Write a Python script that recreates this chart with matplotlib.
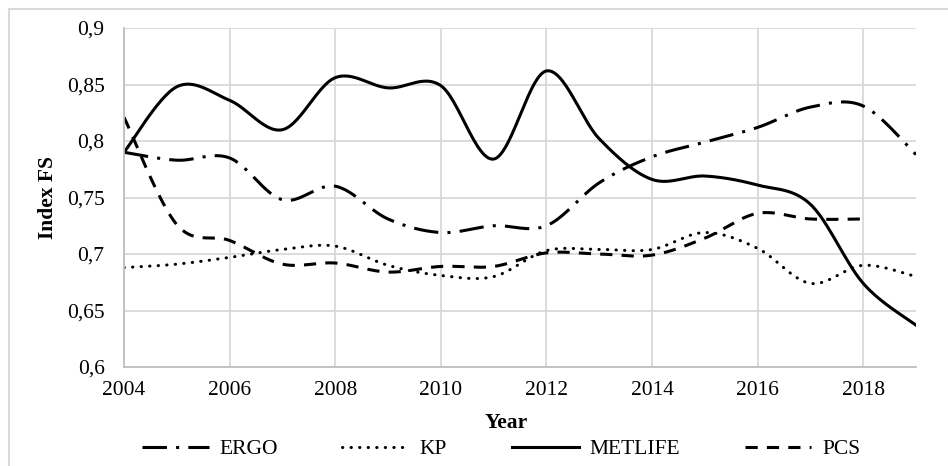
import numpy as np
import matplotlib
matplotlib.use("Agg")
import matplotlib.pyplot as plt
from matplotlib.lines import Line2D

plt.rcParams['font.family'] = ['Liberation Serif', 'DejaVu Serif']

years = list(range(2004, 2020))
ergo = [0.790, 0.783, 0.785, 0.748, 0.760, 0.731, 0.719, 0.725, 0.725, 0.763, 0.786, 0.799, 0.812, 0.830, 0.831, 0.788]
kp = [0.688, 0.691, 0.697, 0.704, 0.707, 0.690, 0.681, 0.680, 0.703, 0.704, 0.704, 0.719, 0.705, 0.674, 0.690, 0.680]
metlife = [0.790, 0.848, 0.836, 0.810, 0.856, 0.847, 0.849, 0.784, 0.862, 0.802, 0.766, 0.769, 0.761, 0.744, 0.674, 0.637]
pcs_years = list(range(2004, 2019))
pcs = [0.821, 0.726, 0.712, 0.691, 0.692, 0.684, 0.689, 0.689, 0.701, 0.700, 0.699, 0.714, 0.736, 0.731, 0.731]

yticks = [0.6, 0.65, 0.7, 0.75, 0.8, 0.85, 0.9]
ytick_labels = ["0,6", "0,65", "0,7", "0,75", "0,8", "0,85", "0,9"]
xticks = [2004, 2006, 2008, 2010, 2012, 2014, 2016, 2018]

FS = 15.5


def smooth(x, y, n=30):
    """Excel-style smoothed line (Catmull-Rom Bezier through the points)."""
    x = np.asarray(x, float)
    y = np.asarray(y, float)
    P = np.column_stack([x, y])
    out = []
    for i in range(len(P) - 1):
        p0 = P[i - 1] if i > 0 else P[i]
        p1 = P[i]
        p2 = P[i + 1]
        p3 = P[i + 2] if i + 2 < len(P) else P[i + 1]
        c1 = p1 + (p2 - p0) / 6.0
        c2 = p2 - (p3 - p1) / 6.0
        t = np.linspace(0, 1, n)[:, None]
        seg = ((1 - t) ** 3) * p1 + 3 * ((1 - t) ** 2) * t * c1 + 3 * (1 - t) * t ** 2 * c2 + t ** 3 * p2
        if i > 0:
            seg = seg[1:]
        out.append(seg)
    out = np.vstack(out)
    return out[:, 0], out[:, 1]


fig = plt.figure(figsize=(9.48, 4.66), dpi=100)
ax = fig.add_axes([124 / 948, 1 - 367 / 466, 792 / 948, 339 / 466])

lw = 2.2
sx, sy = smooth(years, ergo)
ax.plot(sx, sy, color='black', lw=lw, linestyle=(0, (8, 3, 1, 3)), label='ERGO')
sx, sy = smooth(years, kp)
ax.plot(sx, sy, color='black', lw=lw, linestyle=(0, (0.1, 2.7)), dash_capstyle='round', label='KP')
sx, sy = smooth(years, metlife)
ax.plot(sx, sy, color='black', lw=lw, linestyle='-', label='METLIFE')
sx, sy = smooth(pcs_years, pcs)
ax.plot(sx, sy, color='black', lw=lw, linestyle=(0, (4, 3)), label='PCS')

ax.set_xlim(2004, 2019)
ax.set_ylim(0.6, 0.9)
ax.set_xticks(xticks)
ax.set_yticks(yticks)
ax.set_yticklabels(ytick_labels)
ax.tick_params(axis='both', length=0, labelsize=FS, colors='black')
ax.tick_params(axis='x', pad=10)
ax.tick_params(axis='y', pad=14)
ax.grid(True, color='#d9d9d9', lw=1.3)
ax.set_axisbelow(True)
for s in ['top', 'right']:
    ax.spines[s].set_visible(False)
for s in ['left', 'bottom']:
    ax.spines[s].set_color('#bfbfbf')
    ax.spines[s].set_linewidth(1.3)

ax.set_ylabel('Index FS', fontsize=FS, fontweight='bold')
ax.yaxis.set_label_coords((58 - 124) / 792, 0.5)
fig.text(506 / 948, 1 - 423 / 466, 'Year', fontsize=FS, fontweight='bold', ha='center', va='center')

fig.legend(loc='center', bbox_to_anchor=(501 / 948, 1 - 449 / 466), ncol=4, frameon=False,
           fontsize=FS, handlelength=3.1, columnspacing=3.0, handletextpad=0.5)

# outer chart-area border (left and top visible)
fig.add_artist(Line2D([9 / 948, 9 / 948], [0, 1 - 9 / 466], color='#d9d9d9', lw=1.5, transform=fig.transFigure))
fig.add_artist(Line2D([9 / 948, 1], [1 - 9 / 466, 1 - 9 / 466], color='#d9d9d9', lw=1.5, transform=fig.transFigure))

fig.savefig('out.png', dpi=100)
